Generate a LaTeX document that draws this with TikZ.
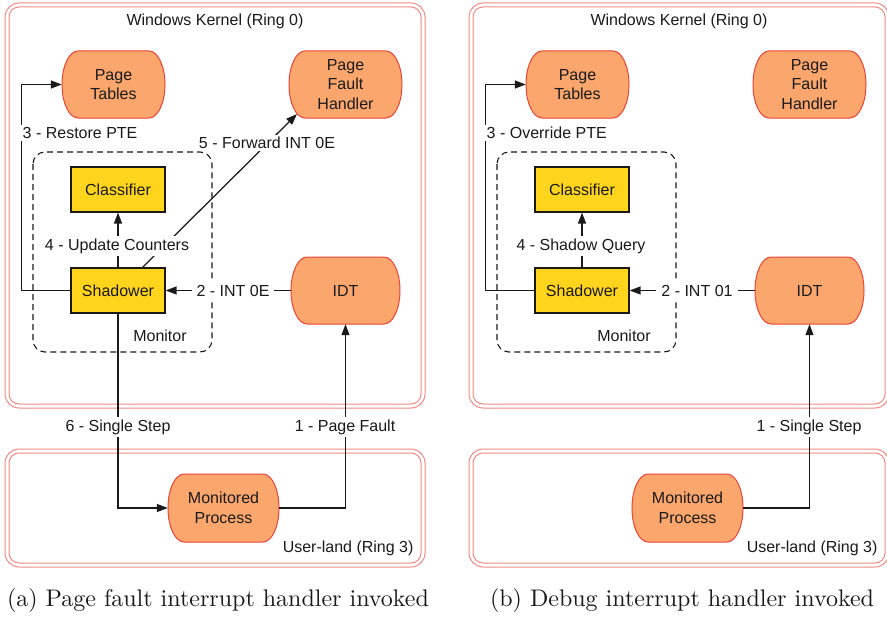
\documentclass[tikz,border=0pt]{standalone}
\usepackage{fontspec}
\newfontfamily\diasans{Liberation Sans}
\newfontfamily\capfont{lmroman10-regular.otf}
\usetikzlibrary{arrows.meta}
\definecolor{kbox}{HTML}{F28A82}
\definecolor{ofill}{HTML}{FBA66C}
\definecolor{oline}{HTML}{EC4436}
\definecolor{yfill}{HTML}{FFD41C}
\definecolor{ink}{HTML}{1A1A1A}
\tikzset{
  txt/.style={font=\diasans\fontsize{16}{19.5}\selectfont, align=center, text=ink},
  ybox/.style={txt, draw=ink, fill=yfill, line width=1.2pt, minimum width=94pt, minimum height=45pt, inner sep=0pt},
  obox/.style={txt, inner sep=0pt},
  arr/.style={draw=ink, line width=1.25pt, -{Triangle[length=11pt,width=8pt]}},
  lbl/.style={txt, fill=white, inner sep=2.5pt},
  mon/.style={draw=ink, line width=1.1pt, dash pattern=on 6pt off 4pt, rounded corners=12pt},
  ring/.style={draw=kbox, line width=1pt},
  capt/.style={font=\capfont\fontsize{24}{28}\selectfont, text=ink},
}
% name, x, y, width, height, text
\newcommand{\orangebox}[6]{%
  \filldraw[fill=ofill, draw=oline, line width=1pt]
    ({#2-#4/2+16},{#3-#5/2}) -- ({#2+#4/2-16},{#3-#5/2})
    arc[start angle=90, end angle=-90, x radius=16pt, y radius={#5/2*1pt}]
    -- ({#2-#4/2+16},{#3+#5/2})
    arc[start angle=270, end angle=90, x radius=16pt, y radius={#5/2*1pt}]
    -- cycle;
  \node[obox, minimum width=#4pt, minimum height=#5pt] (#1) at (#2,#3) {#6};
}
\begin{document}
\begin{tikzpicture}[x=1pt, y=-1pt]
\useasboundingbox (0,0) rectangle (887,618);

% ================= panel (a) =================
\draw[ring, rounded corners=14pt] (5,3) rectangle (425,408);
\draw[ring, rounded corners=10pt] (9,7) rectangle (421,404);
\draw[ring, rounded corners=14pt] (5,449) rectangle (425,567);
\draw[ring, rounded corners=10pt] (9,453) rectangle (421,563);
\node[txt] (ka) at (215,21) {Windows Kernel (Ring 0)};
\node[txt, anchor=east] (ua) at (417,548) {User-land (Ring 3)};
\draw[mon] (33,152) rectangle (212,352);
\node[txt] (ma) at (160,336) {Monitor};

\orangebox{pta}{113.5}{84.5}{103}{67}{Page\\Tables}
\orangebox{pfa}{345.5}{84.5}{113}{67}{Page\\Fault\\Handler}
\orangebox{idta}{345.5}{290.5}{109}{67}{IDT}
\orangebox{mpa}{223.5}{508}{111}{68}{Monitored\\Process}
\node[ybox] (cla) at (118,189.5) {Classifier};
\node[ybox] (sha) at (118,290.5) {Shadower};

\coordinate (s5a) at (142,268);
\coordinate (p5a) at (297,114);
\draw[arr] (sha.west) -- ++(-49,0) |- (pta.west);
\draw[arr] (sha.north) -- (cla.south);
\draw[arr] (s5a) -- (p5a);
\draw[arr] (idta.west) -- (sha.east);
\draw[arr] (mpa.east) -| (idta.south);
\draw[arr] (sha.south) |- (mpa.west);

\node[lbl, anchor=west] (l3a) at (20,133) {3 - Restore PTE};
\node[lbl] (l4a) at (117,246) {4 - Update Counters};
\node[lbl] (l5a) at (267,143) {5 - Forward INT 0E};
\node[lbl, inner xsep=5pt] (l2a) at (233,290.5) {2 - INT 0E};
\node[lbl] (l1a) at (345,427) {1 - Page Fault};
\node[lbl] (l6a) at (118,427) {6 - Single Step};

\node[capt] (capa) at (218,600) {(a) Page fault interrupt handler invoked};

% ================= panel (b) =================
\begin{scope}[xshift=464pt]
\draw[ring, rounded corners=14pt] (5,3) rectangle (425,408);
\draw[ring, rounded corners=10pt] (9,7) rectangle (421,404);
\draw[ring, rounded corners=14pt] (5,449) rectangle (425,567);
\draw[ring, rounded corners=10pt] (9,453) rectangle (421,563);
\node[txt] (kb) at (215,21) {Windows Kernel (Ring 0)};
\node[txt, anchor=east] (ub) at (417,548) {User-land (Ring 3)};
\draw[mon] (33,152) rectangle (212,352);
\node[txt] (mb) at (160,336) {Monitor};

\orangebox{ptb}{113.5}{84.5}{103}{67}{Page\\Tables}
\orangebox{pfb}{345.5}{84.5}{113}{67}{Page\\Fault\\Handler}
\orangebox{idtb}{345.5}{290.5}{109}{67}{IDT}
\orangebox{mpb}{223.5}{508}{111}{68}{Monitored\\Process}
\node[ybox] (clb) at (118,189.5) {Classifier};
\node[ybox] (shb) at (118,290.5) {Shadower};

\draw[arr] (shb.west) -- ++(-49,0) |- (ptb.west);
\draw[arr] (shb.north) -- (clb.south);
\draw[arr] (idtb.west) -- (shb.east);
\draw[arr] (mpb.east) -| (idtb.south);

\node[lbl, anchor=west] (l3b) at (20,133) {3 - Override PTE};
\node[lbl] (l4b) at (117,246) {4 - Shadow Query};
\node[lbl, inner xsep=5pt] (l2b) at (233,290.5) {2 - INT 01};
\node[lbl] (l1b) at (345,427) {1 - Single Step};

\node[capt] (capb) at (218,600) {(b) Debug interrupt handler invoked};
\end{scope}
\end{tikzpicture}
\end{document}
